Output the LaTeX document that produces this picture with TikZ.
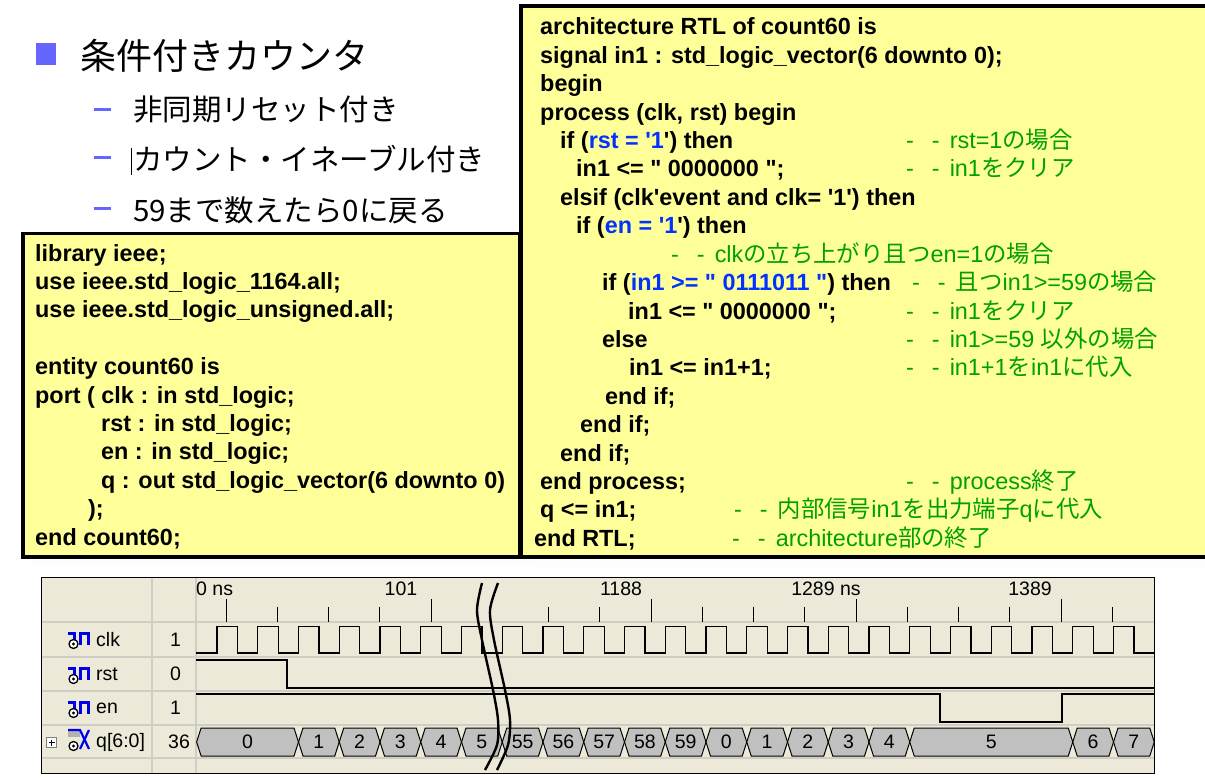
\documentclass[tikz,border=0pt]{standalone}
\usepackage{fontspec}
\setmainfont{Liberation Sans}[Ligatures=TeXOff]
\newfontfamily\jpfont{Noto Sans CJK JP}
\newcommand{\jp}[1]{{\jpfont #1}}
\newcommand{\dd}{-\hspace{18pt}-\hspace{10pt}}
\newcommand{\kw}[1]{\textcolor{kwblue}{#1}}
\definecolor{memo}{RGB}{255,255,153}
\definecolor{shade}{RGB}{160,160,160}
\definecolor{cmtgreen}{RGB}{0,160,0}
\definecolor{kwblue}{RGB}{0,51,255}
\definecolor{bulletblue}{RGB}{102,102,255}
\definecolor{panel}{RGB}{236,233,216}
\definecolor{gridgray}{RGB}{208,205,196}
\definecolor{hexgray}{RGB}{192,192,192}
\definecolor{iconblue}{RGB}{0,0,235}
\tikzset{
  code/.style={anchor=base west, inner sep=0pt, font=\fontsize{23.4}{28}\selectfont\bfseries},
  cmt/.style={anchor=base west, inner sep=0pt, text=cmtgreen, font=\fontsize{23.4}{28}\selectfont},
  item/.style={anchor=base west, inner sep=0pt, font=\jpfont\fontsize{29.5}{32}\selectfont},
  memobox/.style={fill=memo, draw=black, line width=3.4pt},
  wave/.style={line width=1.3pt},
  wavetxt/.style={inner sep=0pt, font=\fontsize{19.5}{21}\selectfont},
  hexseg/.style={fill=hexgray, draw=black, line width=1pt},
  sigicon/.style={draw=iconblue, line width=3pt},
}
\begin{document}
\begin{tikzpicture}[x=1pt,y=-1pt]
\useasboundingbox (0,0) rectangle (1205,781);
\fill[white] (0,0) rectangle (1205,781);

% title and items
\fill[bulletblue] (35.5,43) rectangle (56,65);
\node[anchor=base west, inner sep=0pt, font=\jpfont\fontsize{36}{40}\selectfont] (title) at (80,69.5) {条件付きカウンタ};
\foreach \y in {110,158,208}
  \draw[bulletblue, line width=3pt] (93.5,\y) -- (111,\y);
\node[item] (it1) at (133,121) {非同期リセット付き};
\node[item] (it2) at (133,171) {カウント・イネーブル付き};
\node[item] (it3) at (133,221) {59まで数えたら0に戻る};
\draw[line width=1pt] (131,148) -- (131,175);

% shadows
\fill[shade] (31,243) rectangle (530,569.5);
\fill[shade] (531,17) rectangle (1215,569.5);

% entity box
\draw[memobox] (23,233.3) rectangle (520,557);
\node[code] (e1) at (35,261) {library ieee;};
\node[code] (e2) at (35,289.4) {use ieee.std\_logic\_1164.all;};
\node[code] (e3) at (35,317.8) {use ieee.std\_logic\_unsigned.all;};
\node[code] (e4) at (35,374.6) {entity count60 is};
\node[code] (e5) at (35,403) {port ( clk : in std\_logic;};
\node[code] (e6) at (101,431.4) {rst : in std\_logic;};
\node[code] (e7) at (101,459.8) {en : in std\_logic;};
\node[code] (e8) at (101,488.2) {q : out std\_logic\_vector(6 downto 0)};
\node[code] (e9) at (88,516.6) {);};
\node[code] (e10) at (35,545) {end count60;};

% architecture box
\fill[memo] (521,6) rectangle (1215,557);
\draw[line width=3.4pt] (1215,6) -- (521,6) -- (521,557) -- (1215,557);
\node[code] (a1) at (540,35) {architecture RTL of count60 is};
\node[code] (a2) at (540,63.4) {signal in1 : std\_logic\_vector(6 downto 0);};
\node[code] (a3) at (540,91.8) {begin};
\node[code] (a4) at (540,120.2) {process (clk, rst) begin};
\node[code] (a5) at (560,148.6) {if (\kw{rst = '1}') then};
\node[code] (a6) at (576,177) {in1 <= " 0000000 ";};
\node[code] (a7) at (560,205.4) {elsif (clk'event and clk= '1') then};
\node[code] (a8) at (576,233.8) {if (\kw{en = '1}') then};
\node[code] (a9) at (602,290.6) {if (\kw{in1 >= " 0111011 "}) then};
\node[code] (a10) at (628,319) {in1 <= " 0000000 ";};
\node[code] (a11) at (602,347.4) {else};
\node[code] (a12) at (629,375.8) {in1 <= in1+1;};
\node[code] (a13) at (605,404.2) {end if;};
\node[code] (a14) at (580,432.6) {end if;};
\node[code] (a15) at (560,461) {end if;};
\node[code] (a16) at (540,489.4) {end process;};
\node[code] (a17) at (540,517.8) {q <= in1;};
\node[code] (a18) at (534,546.2) {end RTL;};

% comments
\node[cmt] (c1) at (906,148.6) {\dd rst=1\jp{の場合}};
\node[cmt] (c2) at (906,177) {\dd in1\jp{をクリア}};
\node[cmt] (c3) at (671,262.2) {\dd clk\jp{の立ち上がり且つ}en=1\jp{の場合}};
\node[cmt] (c4) at (912,290.6) {\dd \jp{且つ}in1>=59\jp{の場合}};
\node[cmt] (c5) at (906,319) {\dd in1\jp{をクリア}};
\node[cmt] (c6) at (906,347.4) {\dd in1>=59 \jp{以外の場合}};
\node[cmt] (c7) at (906,375.8) {\dd in1+1\jp{を}in1\jp{に代入}};
\node[cmt] (c8) at (906,489.4) {\dd process\jp{終了}};
\node[cmt] (c9) at (734,517.8) {\dd \jp{内部信号}in1\jp{を出力端子}q\jp{に代入}};
\node[cmt] (c10) at (732,546.2) {\dd architecture\jp{部の終了}};

% waveform panel
\fill[panel] (41.5,577.5) rectangle (1154.5,773.5);
\foreach \y in {622,657,691,725,758}
  \draw[gridgray, line width=1.5pt] (41.5,\y) -- (1154.5,\y);
\foreach \x in {152,196}
  \draw[gridgray, line width=1.5pt] (\x,577.5) -- (\x,773.5);
\draw[line width=1pt] (41.5,577.5) rectangle (1154.5,773.5);

% time scale
\foreach \x in {226,431,651,856,1061}
  \draw[line width=1pt] (\x,599) -- (\x,622);
\foreach \x in {277,328,379,548,599.5,702,753,804,907,958,1009,1112}
  \draw[line width=1pt] (\x,607) -- (\x,622);
\node[wavetxt, anchor=west] (t0) at (196,589) {0 ns};
\node[wavetxt] (t1) at (401,589) {101};
\node[wavetxt] (t2) at (621,589) {1188};
\node[wavetxt] (t3) at (826,589) {1289 ns};
\node[wavetxt] (t4) at (1030,589) {1389};

% signal names and values
\foreach \t in {622,657,691} {
  \draw[sigicon] (68,\t+11) -- (74.5,\t+11) -- (74.5,\t+23);
  \draw[sigicon] (80,\t+23) -- (80,\t+11) -- (88,\t+11) -- (88,\t+23);
  \draw[fill=white, line width=1.3pt] (73.5,\t+22) circle[radius=4.5];
  \fill (73.5,\t+22) circle[radius=1.6];
}
\fill[gray!60] (68,729) rectangle (80,737);
\draw[sigicon, line width=2.2pt] (68,730) -- (80,730) -- (89,749);
\draw[sigicon, line width=2.2pt] (80,749) -- (89,730);
\draw[fill=white, line width=1.3pt] (73.5,746) circle[radius=4.5];
\fill (73.5,746) circle[radius=1.6];
\draw[fill=white, draw=gray] (46.5,737.5) rectangle (56.5,747.5);
\draw[line width=0.9pt] (48.5,742.5) -- (54.5,742.5) (51.5,739.5) -- (51.5,745.5);
\node[wavetxt, anchor=west] (nclk) at (96,640) {clk};
\node[wavetxt, anchor=west] (nrst) at (96,674) {rst};
\node[wavetxt, anchor=west] (nen) at (96,708) {en};
\node[wavetxt, anchor=west] (nq) at (96,742) {q[6:0]};
\node[wavetxt, anchor=west] (vclk) at (170,640) {1};
\node[wavetxt, anchor=west] (vrst) at (170,674) {0};
\node[wavetxt, anchor=west] (ven) at (170,708) {1};
\node[wavetxt, anchor=west] (vq) at (168,742) {36};

% waves
\draw[wave] (196,653) \foreach \k in {0,...,22} {
  -- ({217+40.75*\k},653) -- ({217+40.75*\k},626.5)
  -- ({237.4+40.75*\k},626.5) -- ({237.4+40.75*\k},653) } -- (1154,653);
\draw[wave] (196,660) -- (287,660) -- (287,688) -- (1154,688);
\draw[wave] (196,694) -- (940,694) -- (940,722) -- (1062,722) -- (1062,694) -- (1154,694);
\foreach \ka/\kb/\v [count=\i] in {-0.5/2/0, 2/3/1, 3/4/2, 4/5/3, 5/6/4, 6/7/5,
    7/8/55, 8/9/56, 9/10/57, 10/11/58, 11/12/59, 12/13/0, 13/14/1, 14/15/2,
    15/16/3, 16/17/4, 17/21/5, 21/22/6, 22/23/7} {
  \pgfmathsetmacro\xa{217+40.75*\ka}
  \pgfmathsetmacro\xb{217+40.75*\kb}
  \draw[hexseg] (\xa,742) -- (\xa+4.5,728) -- (\xb-4.5,728) -- (\xb,742)
    -- (\xb-4.5,756) -- (\xa+4.5,756) -- cycle;
  \node[wavetxt] (q\i) at ({(\xa+\xb)/2},742) {\v};
}

% break marks
\draw[line width=2.4pt] plot[smooth] coordinates {(482,583) (477,610) (482,640) (493,690) (498,720) (497,745) (485,770)};
\draw[line width=2.4pt] plot[smooth] coordinates {(498,583) (490,610) (494,640) (505,690) (510,720) (508,745) (497,770)};
\end{tikzpicture}
\end{document}
